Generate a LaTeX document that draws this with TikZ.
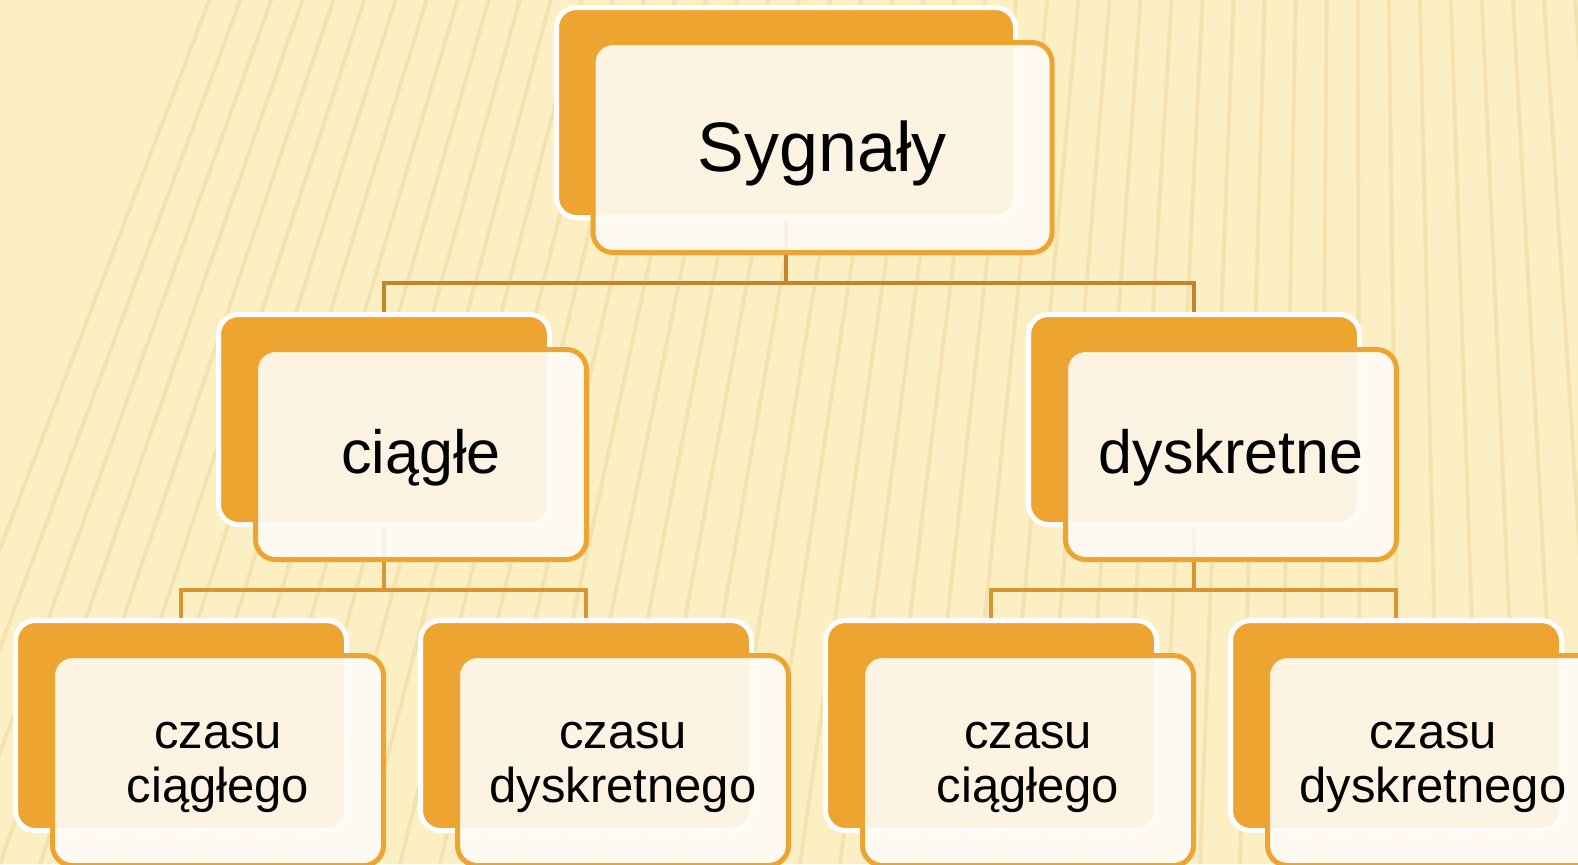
\documentclass[tikz,border=0pt]{standalone}
\usepackage{fontspec}
\setmainfont{Liberation Sans}
\pgfdeclarelayer{paper}
\pgfdeclarelayer{links}
\pgfsetlayers{paper,links,main}
\definecolor{paperYellow}{HTML}{FCEFC3}
\definecolor{stripeYellow}{HTML}{EBD597}
\definecolor{cardOrange}{HTML}{EEA431}
\definecolor{faceCream}{HTML}{FFFCF6}
\definecolor{linkBrown}{HTML}{C4852A}
\definecolor{linkOrange}{HTML}{DA9430}

\begin{document}
\begin{tikzpicture}[x=0.5pt,y=-0.5pt,
        back/.style={rectangle, rounded corners=10pt, fill=cardOrange, draw=white,
            line width=2.5pt, minimum width=165.5pt, minimum height=105pt},
        face/.style={rectangle, rounded corners=10pt, fill=faceCream, fill opacity=0.9,
            text opacity=1, draw=cardOrange, line width=2.5pt, minimum width=165.5pt,
            minimum height=105pt, align=center, font=\fontsize{24.5}{27}\selectfont,
            text height=46pt, text depth=4.5pt},
        mid/.style={font=\fontsize{30.5}{36}\selectfont, text height=24pt, text depth=5pt},
        wide/.style={minimum width=229.5pt},
        linkMain/.style={draw=linkBrown, line width=2.3pt},
        linkSub/.style={draw=linkOrange, line width=2.3pt},
        stripe/.style={draw=stripeYellow, line width=2pt, opacity=0.45}]
        \useasboundingbox (0,0) rectangle (1578,864);

        % paper with stripes
        \begin{pgfonlayer}{paper}
            \begin{scope}
                \clip (0,0) rectangle (1578,864);
                \fill[paperYellow] (0,0) rectangle (1578,864);
                \foreach \i in {-3,...,42} {
                    \pgfmathsetmacro\xb{\i*40}
                    \pgfmathsetmacro\xt{1350+0.776*(\xb-1350)}
                    \draw[stripe] (\xb,864) -- (\xt,0);
                }
            \end{scope}
        \end{pgfonlayer}

        % top
        \node[back, wide] (sygBack) at (786,112.5) {};
        \node[face, wide, font=\fontsize{35}{42}\selectfont, text height=30pt, text depth=6.5pt]
            (syg) at ([shift={(36.5,35)}]sygBack.center) {Sygnały};

        % second row
        \node[back] (ciagBack) at (384,419.5) {};
        \node[face, mid] (ciag) at ([shift={(37,35)}]ciagBack.center) {ciągłe};
        \node[back] (dyskBack) at (1194,419.5) {};
        \node[face, mid] (dysk) at ([shift={(37,35)}]dyskBack.center) {dyskretne};

        % third row
        \node[back] (ccBack) at (181,725.5) {};
        \node[face] (cc) at ([shift={(37,35)}]ccBack.center) {czasu\\ciągłego};
        \node[back] (cdBack) at (586,725.5) {};
        \node[face] (cd) at ([shift={(37,35)}]cdBack.center) {czasu\\dyskretnego};
        \node[back] (dcBack) at (991,725.5) {};
        \node[face] (dc) at ([shift={(37,35)}]dcBack.center) {czasu\\ciągłego};
        \node[back] (ddBack) at (1396,725.5) {};
        \node[face] (dd) at ([shift={(37,35)}]ddBack.center) {czasu\\dyskretnego};

        % connectors
        \begin{pgfonlayer}{links}
            \coordinate (forkTop) at (786,283);
            \coordinate (forkLeft) at (384,590);
            \coordinate (forkRight) at (1194,590);
            \draw[linkMain] (sygBack.south) -- (forkTop) -| (ciagBack.north);
            \draw[linkMain] (forkTop) -| (dyskBack.north);
            \draw[linkSub] (ciagBack.south) -- (forkLeft) -| (ccBack.north);
            \draw[linkSub] (forkLeft) -| (cdBack.north);
            \draw[linkSub] (dyskBack.south) -- (forkRight) -| (dcBack.north);
            \draw[linkSub] (forkRight) -| (ddBack.north);
        \end{pgfonlayer}
    \end{tikzpicture}
\end{document}
